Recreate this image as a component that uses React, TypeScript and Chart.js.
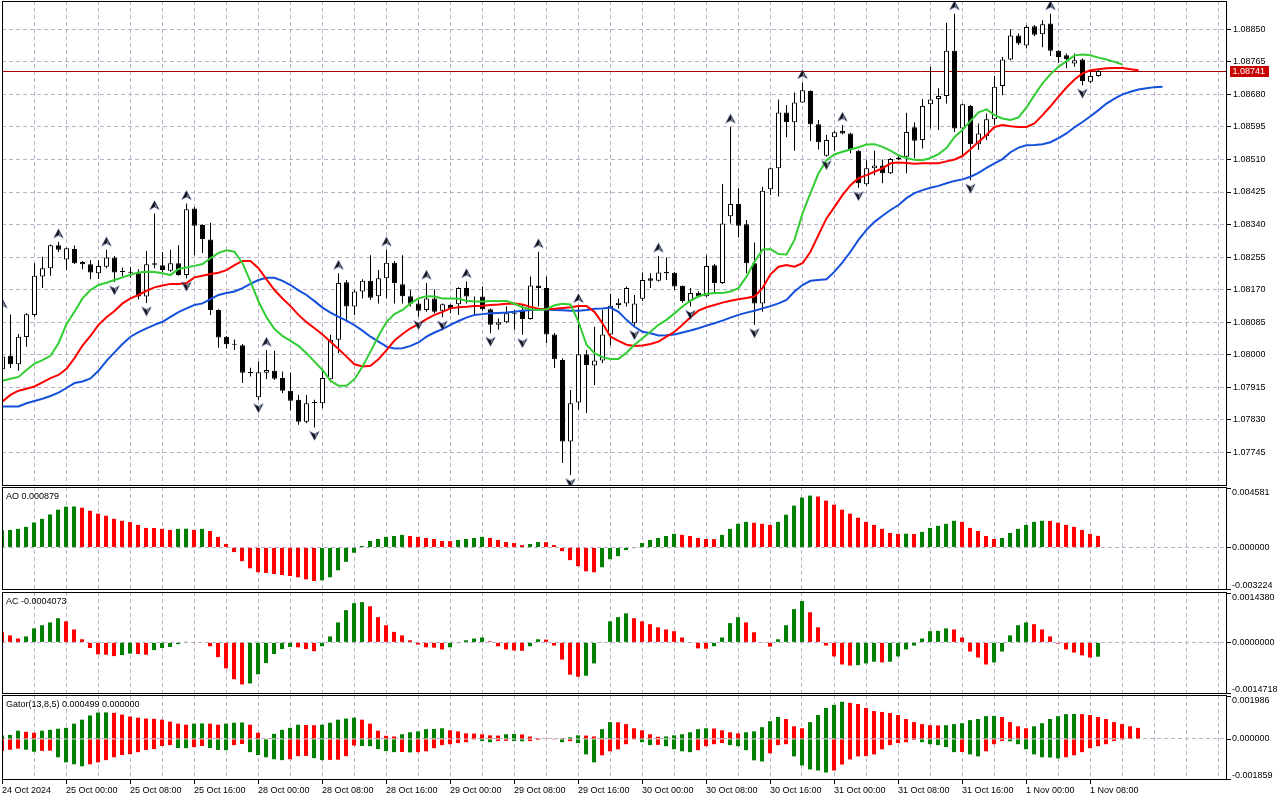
import React, { useEffect, useRef } from "react";
import { Chart, registerables } from "chart.js";

Chart.register(...registerables);

// ---------------- data (EURUSD H1) ----------------
const DATE_LABELS = [
  "24 Oct 2024", "25 Oct 00:00", "25 Oct 08:00", "25 Oct 16:00", "28 Oct 00:00", "28 Oct 08:00",
  "28 Oct 16:00", "29 Oct 00:00", "29 Oct 08:00", "29 Oct 16:00", "30 Oct 00:00", "30 Oct 08:00",
  "30 Oct 16:00", "31 Oct 00:00", "31 Oct 08:00", "31 Oct 16:00", "1 Nov 00:00", "1 Nov 08:00",
];
const LABEL_EVERY = 8;
const GRID_EVERY = 4;

const OPEN = [
  1.07962, 1.07997, 1.07975, 1.08046, 1.08104, 1.08204, 1.08226, 1.08286, 1.08249, 1.08276,
  1.08242, 1.08236, 1.08213, 1.08230, 1.08254, 1.08217, 1.08215, 1.08213, 1.08152, 1.08239,
  1.08234, 1.08219, 1.08239, 1.08208, 1.08382, 1.08339, 1.08301, 1.08117, 1.08047, 1.08027,
  1.08025, 1.07953, 1.07889, 1.07953, 1.07958, 1.07939, 1.07906, 1.07882, 1.07825, 1.07875,
  1.07873, 1.07936, 1.08039, 1.08189, 1.08126, 1.08165, 1.08193, 1.08153, 1.08200, 1.08240,
  1.08184, 1.08153, 1.08134, 1.08117, 1.08147, 1.08115, 1.08130, 1.08132, 1.08174, 1.08139,
  1.08152, 1.08119, 1.08078, 1.08085, 1.08106, 1.08115, 1.08093, 1.08181, 1.08174, 1.08053,
  1.07986, 1.07773, 1.07875, 1.08001, 1.07972, 1.07985, 1.08053, 1.08130, 1.08134, 1.08082,
  1.08146, 1.08200, 1.08193, 1.08216, 1.08214, 1.08180, 1.08140, 1.08162, 1.08153, 1.08234,
  1.08187, 1.08362, 1.08394, 1.08341, 1.08239, 1.08134, 1.08432, 1.08487, 1.08633, 1.08607,
  1.08659, 1.08689, 1.08602, 1.08520, 1.08568, 1.08585, 1.08578, 1.08533, 1.08445, 1.08487,
  1.08494, 1.08474, 1.08510, 1.08517, 1.08594, 1.08561, 1.08654, 1.08668, 1.08676, 1.08794,
  1.08591, 1.08650, 1.08550, 1.08571, 1.08615, 1.08702, 1.08771, 1.08834, 1.08808, 1.08858,
  1.08837, 1.08865, 1.08794, 1.08782, 1.08761, 1.08771, 1.08713, 1.08728,
];
const HIGH = [
  1.08112, 1.08105, 1.08054, 1.08108, 1.08239, 1.08256, 1.08288, 1.08295, 1.08280, 1.08285,
  1.08245, 1.08247, 1.08247, 1.08274, 1.08258, 1.08228, 1.08229, 1.08223, 1.08271, 1.08369,
  1.08268, 1.08274, 1.08286, 1.08395, 1.08386, 1.08341, 1.08345, 1.08119, 1.08049, 1.08040,
  1.08028, 1.07966, 1.07982, 1.08012, 1.08010, 1.07956, 1.07953, 1.07895, 1.07895, 1.07882,
  1.07960, 1.08052, 1.08213, 1.08195, 1.08169, 1.08197, 1.08260, 1.08221, 1.08274, 1.08245,
  1.08260, 1.08169, 1.08143, 1.08187, 1.08171, 1.08134, 1.08132, 1.08176, 1.08191, 1.08152,
  1.08178, 1.08121, 1.08095, 1.08126, 1.08117, 1.08130, 1.08204, 1.08269, 1.08204, 1.08057,
  1.07991, 1.07908, 1.08126, 1.08012, 1.08073, 1.08117, 1.08159, 1.08147, 1.08178, 1.08156,
  1.08215, 1.08213, 1.08258, 1.08254, 1.08216, 1.08181, 1.08174, 1.08166, 1.08260, 1.08237,
  1.08446, 1.08595, 1.08435, 1.08352, 1.08293, 1.08439, 1.08489, 1.08667, 1.08652, 1.08685,
  1.08711, 1.08691, 1.08613, 1.08574, 1.08585, 1.08600, 1.08580, 1.08535, 1.08508, 1.08533,
  1.08510, 1.08514, 1.08519, 1.08632, 1.08607, 1.08668, 1.08752, 1.08696, 1.08867, 1.08891,
  1.08656, 1.08652, 1.08604, 1.08630, 1.08728, 1.08778, 1.08850, 1.08839, 1.08861, 1.08861,
  1.08874, 1.08891, 1.08796, 1.08787, 1.08787, 1.08774, 1.08743, 1.08744,
];
const LOW = [
  1.07955, 1.07965, 1.07958, 1.08021, 1.08099, 1.08174, 1.08206, 1.08268, 1.08221, 1.08237,
  1.08223, 1.08197, 1.08198, 1.08226, 1.08190, 1.08204, 1.08202, 1.08145, 1.08135, 1.08226,
  1.08216, 1.08217, 1.08206, 1.08200, 1.08260, 1.08266, 1.08104, 1.08018, 1.08016, 1.08012,
  1.07926, 1.07943, 1.07882, 1.07936, 1.07934, 1.07900, 1.07854, 1.07817, 1.07821, 1.07810,
  1.07860, 1.07928, 1.08004, 1.08091, 1.08104, 1.08147, 1.08143, 1.08134, 1.08147, 1.08134,
  1.08134, 1.08126, 1.08099, 1.08112, 1.08108, 1.08098, 1.08108, 1.08104, 1.08134, 1.08104,
  1.08115, 1.08056, 1.08065, 1.08082, 1.08065, 1.08052, 1.08091, 1.08126, 1.08030, 1.07965,
  1.07717, 1.07686, 1.07856, 1.07848, 1.07921, 1.07978, 1.08025, 1.08121, 1.08126, 1.08073,
  1.08140, 1.08174, 1.08191, 1.08195, 1.08169, 1.08136, 1.08126, 1.08150, 1.08151, 1.08161,
  1.08185, 1.08343, 1.08306, 1.08213, 1.08078, 1.08112, 1.08417, 1.08413, 1.08568, 1.08533,
  1.08658, 1.08558, 1.08536, 1.08517, 1.08533, 1.08576, 1.08526, 1.08436, 1.08441, 1.08469,
  1.08448, 1.08472, 1.08508, 1.08474, 1.08513, 1.08539, 1.08591, 1.08587, 1.08656, 1.08582,
  1.08517, 1.08456, 1.08535, 1.08561, 1.08600, 1.08678, 1.08769, 1.08809, 1.08800, 1.08832,
  1.08803, 1.08780, 1.08762, 1.08748, 1.08752, 1.08704, 1.08709, 1.08726,
];
const CLOSE = [
  1.07995, 1.07975, 1.08047, 1.08106, 1.08206, 1.08226, 1.08286, 1.08274, 1.08278, 1.08239,
  1.08236, 1.08215, 1.08232, 1.08254, 1.08215, 1.08216, 1.08214, 1.08152, 1.08236, 1.08235,
  1.08221, 1.08239, 1.08208, 1.08380, 1.08337, 1.08302, 1.08117, 1.08045, 1.08027, 1.08026,
  1.07953, 1.07952, 1.07954, 1.07960, 1.07937, 1.07906, 1.07880, 1.07825, 1.07873, 1.07874,
  1.07939, 1.08039, 1.08187, 1.08126, 1.08165, 1.08193, 1.08149, 1.08200, 1.08240, 1.08187,
  1.08153, 1.08133, 1.08115, 1.08147, 1.08112, 1.08132, 1.08121, 1.08174, 1.08152, 1.08138,
  1.08119, 1.08078, 1.08085, 1.08108, 1.08107, 1.08093, 1.08181, 1.08174, 1.08053, 1.07988,
  1.07773, 1.07873, 1.08001, 1.07973, 1.07985, 1.08053, 1.08128, 1.08136, 1.08174, 1.08134,
  1.08195, 1.08193, 1.08215, 1.08213, 1.08178, 1.08140, 1.08161, 1.08152, 1.08232, 1.08187,
  1.08343, 1.08394, 1.08337, 1.08239, 1.08134, 1.08428, 1.08487, 1.08633, 1.08608, 1.08659,
  1.08691, 1.08602, 1.08555, 1.08561, 1.08581, 1.08578, 1.08536, 1.08448, 1.08487, 1.08494,
  1.08474, 1.08511, 1.08515, 1.08582, 1.08559, 1.08650, 1.08667, 1.08676, 1.08794, 1.08591,
  1.08654, 1.08550, 1.08578, 1.08615, 1.08700, 1.08771, 1.08834, 1.08813, 1.08856, 1.08836,
  1.08863, 1.08794, 1.08778, 1.08772, 1.08769, 1.08715, 1.08728, 1.08741,
];

// Alligator (jaw shifted 8, teeth 5, lips 3 bars into the future)
const JAW = [
  1.07865, 1.07865, 1.07865, 1.07873, 1.07879, 1.07885, 1.07892, 1.07901, 1.07913, 1.07926,
  1.07930, 1.07938, 1.07958, 1.07984, 1.08006, 1.08028, 1.08047, 1.08059, 1.08069, 1.08078,
  1.08086, 1.08099, 1.08111, 1.08121, 1.08130, 1.08134, 1.08145, 1.08156, 1.08161, 1.08165,
  1.08174, 1.08185, 1.08195, 1.08201, 1.08201, 1.08193, 1.08182, 1.08168, 1.08156, 1.08140,
  1.08123, 1.08110, 1.08099, 1.08089, 1.08077, 1.08063, 1.08047, 1.08034, 1.08021, 1.08016,
  1.08017, 1.08023, 1.08032, 1.08047, 1.08058, 1.08067, 1.08078, 1.08088, 1.08097, 1.08104,
  1.08106, 1.08108, 1.08109, 1.08110, 1.08112, 1.08115, 1.08117, 1.08119, 1.08118, 1.08117,
  1.08116, 1.08115, 1.08115, 1.08117, 1.08120, 1.08121, 1.08123, 1.08112, 1.08091, 1.08073,
  1.08060, 1.08056, 1.08050, 1.08051, 1.08053, 1.08058, 1.08063, 1.08069, 1.08076, 1.08082,
  1.08089, 1.08097, 1.08104, 1.08110, 1.08115, 1.08121, 1.08127, 1.08134, 1.08143, 1.08165,
  1.08182, 1.08193, 1.08195, 1.08197, 1.08217, 1.08241, 1.08269, 1.08300, 1.08326, 1.08347,
  1.08363, 1.08378, 1.08391, 1.08409, 1.08422, 1.08430, 1.08436, 1.08441, 1.08448, 1.08454,
  1.08458, 1.08465, 1.08475, 1.08488, 1.08500, 1.08511, 1.08529, 1.08541, 1.08547, 1.08548,
  1.08550, 1.08555, 1.08566, 1.08578, 1.08594, 1.08608, 1.08623, 1.08639, 1.08656, 1.08669,
  1.08680, 1.08687, 1.08693, 1.08696, 1.08699, 1.08700,
];
const TEETH = [
  1.07878, 1.07895, 1.07906, 1.07911, 1.07917, 1.07928, 1.07939, 1.07947, 1.07963, 1.07991,
  1.08024, 1.08049, 1.08078, 1.08098, 1.08114, 1.08134, 1.08147, 1.08156, 1.08167, 1.08176,
  1.08181, 1.08185, 1.08185, 1.08187, 1.08202, 1.08206, 1.08211, 1.08214, 1.08221, 1.08234,
  1.08245, 1.08245, 1.08226, 1.08197, 1.08169, 1.08147, 1.08127, 1.08104, 1.08085, 1.08069,
  1.08053, 1.08034, 1.08015, 1.07995, 1.07975, 1.07969, 1.07971, 1.07988, 1.08012, 1.08037,
  1.08054, 1.08069, 1.08080, 1.08093, 1.08104, 1.08112, 1.08121, 1.08124, 1.08125, 1.08127,
  1.08128, 1.08130, 1.08131, 1.08133, 1.08134, 1.08131, 1.08125, 1.08120, 1.08119, 1.08120,
  1.08122, 1.08124, 1.08127, 1.08127, 1.08112, 1.08082, 1.08047, 1.08036, 1.08026, 1.08023,
  1.08024, 1.08028, 1.08034, 1.08047, 1.08060, 1.08078, 1.08098, 1.08115, 1.08124, 1.08130,
  1.08136, 1.08141, 1.08145, 1.08148, 1.08152, 1.08174, 1.08210, 1.08230, 1.08234, 1.08230,
  1.08239, 1.08269, 1.08313, 1.08356, 1.08386, 1.08417, 1.08443, 1.08461, 1.08469, 1.08478,
  1.08487, 1.08500, 1.08502, 1.08501, 1.08499, 1.08500, 1.08500, 1.08500, 1.08505, 1.08510,
  1.08519, 1.08537, 1.08556, 1.08574, 1.08595, 1.08600, 1.08597, 1.08595, 1.08595, 1.08604,
  1.08626, 1.08649, 1.08674, 1.08698, 1.08719, 1.08735, 1.08743, 1.08746, 1.08748, 1.08749,
  1.08749, 1.08746, 1.08743,
];
const LIPS = [
  1.07932, 1.07937, 1.07942, 1.07960, 1.07977, 1.07986, 1.07997, 1.08030, 1.08080, 1.08112,
  1.08147, 1.08169, 1.08182, 1.08188, 1.08195, 1.08202, 1.08209, 1.08215, 1.08217, 1.08216,
  1.08213, 1.08208, 1.08224, 1.08228, 1.08232, 1.08237, 1.08252, 1.08266, 1.08273, 1.08269,
  1.08239, 1.08191, 1.08139, 1.08098, 1.08067, 1.08049, 1.08036, 1.08023, 1.08004, 1.07982,
  1.07960, 1.07932, 1.07919, 1.07919, 1.07936, 1.07969, 1.08008, 1.08049, 1.08086, 1.08106,
  1.08117, 1.08134, 1.08147, 1.08153, 1.08152, 1.08147, 1.08147, 1.08146, 1.08141, 1.08139,
  1.08139, 1.08140, 1.08140, 1.08140, 1.08133, 1.08124, 1.08119, 1.08117, 1.08119, 1.08129,
  1.08133, 1.08131, 1.08086, 1.08026, 1.08004, 1.07993, 1.07989, 1.07989, 1.08005, 1.08026,
  1.08043, 1.08060, 1.08078, 1.08091, 1.08108, 1.08126, 1.08141, 1.08152, 1.08159, 1.08161,
  1.08161, 1.08165, 1.08174, 1.08204, 1.08243, 1.08274, 1.08276, 1.08263, 1.08262, 1.08300,
  1.08369, 1.08422, 1.08474, 1.08508, 1.08523, 1.08530, 1.08536, 1.08542, 1.08549, 1.08550,
  1.08543, 1.08533, 1.08521, 1.08514, 1.08509, 1.08508, 1.08514, 1.08524, 1.08540, 1.08569,
  1.08587, 1.08611, 1.08633, 1.08641, 1.08626, 1.08617, 1.08613, 1.08620, 1.08646, 1.08678,
  1.08709, 1.08733, 1.08752, 1.08767, 1.08782, 1.08784, 1.08782, 1.08776, 1.08771, 1.08765,
  1.08758,
];

// Fractals: bar indexes of up / down fractals
const FRACTAL_UP = [0, 7, 13, 19, 23, 33, 42, 48, 53, 58, 67, 72, 82, 91, 100, 105, 119, 131];
const FRACTAL_DOWN = [14, 18, 23, 32, 39, 52, 55, 61, 65, 71, 79, 86, 94, 103, 107, 121, 135];

const AO = [
  0.00130, 0.00133, 0.00141, 0.00156, 0.00189, 0.00217, 0.00250, 0.00286, 0.00309, 0.00310,
  0.00301, 0.00278, 0.00256, 0.00240, 0.00217, 0.00202, 0.00192, 0.00171, 0.00148, 0.00147,
  0.00141, 0.00133, 0.00141, 0.00142, 0.00133, 0.00141, 0.00125, 0.00080, 0.00026, -0.00035,
  -0.00104, -0.00158, -0.00188, -0.00193, -0.00201, -0.00209, -0.00216, -0.00226, -0.00242, -0.00254,
  -0.00249, -0.00226, -0.00173, -0.00109, -0.00040, 0.00011, 0.00049, 0.00064, 0.00080, 0.00087,
  0.00095, 0.00087, 0.00080, 0.00072, 0.00064, 0.00049, 0.00048, 0.00057, 0.00064, 0.00072,
  0.00080, 0.00072, 0.00057, 0.00041, 0.00034, 0.00018, 0.00026, 0.00041, 0.00040, 0.00018,
  -0.00028, -0.00096, -0.00142, -0.00181, -0.00188, -0.00150, -0.00089, -0.00066, -0.00020, -0.00005,
  0.00034, 0.00057, 0.00072, 0.00087, 0.00103, 0.00095, 0.00087, 0.00072, 0.00064, 0.00063,
  0.00095, 0.00141, 0.00179, 0.00194, 0.00187, 0.00179, 0.00171, 0.00194, 0.00248, 0.00317,
  0.00378, 0.00393, 0.00386, 0.00355, 0.00324, 0.00286, 0.00256, 0.00225, 0.00194, 0.00171,
  0.00141, 0.00110, 0.00103, 0.00104, 0.00102, 0.00118, 0.00148, 0.00164, 0.00179, 0.00202,
  0.00194, 0.00148, 0.00125, 0.00087, 0.00064, 0.00072, 0.00110, 0.00141, 0.00171, 0.00194,
  0.00202, 0.00201, 0.00187, 0.00171, 0.00156, 0.00133, 0.00103, 0.000879,
];
const AC = [
  0.00029, 0.00020, 0.00011, 0.00017, 0.00040, 0.00049, 0.00057, 0.00069, 0.00060, 0.00037,
  0.00009, -0.00016, -0.00034, -0.00035, -0.00039, -0.00036, -0.00032, -0.00033, -0.00035, -0.00022,
  -0.00016, -0.00013, -0.00005, 0.00002, -0.00001, 0.00000, -0.00011, -0.00042, -0.00074, -0.00105,
  -0.00120, -0.00117, -0.00091, -0.00059, -0.00033, -0.00019, -0.00013, -0.00014, -0.00019, -0.00025,
  -0.00011, 0.00017, 0.00057, 0.00092, 0.00112, 0.00115, 0.00103, 0.00072, 0.00049, 0.00030,
  0.00020, 0.00006, -0.00006, -0.00014, -0.00015, -0.00020, -0.00014, -0.00002, 0.00006, 0.00011,
  0.00014, 0.00003, -0.00011, -0.00020, -0.00023, -0.00024, -0.00011, 0.00009, 0.00008, -0.00009,
  -0.00049, -0.00092, -0.00098, -0.00095, -0.00060, 0.00001, 0.00060, 0.00072, 0.00083, 0.00069,
  0.00060, 0.00052, 0.00043, 0.00037, 0.00032, 0.00014, -0.00001, -0.00017, -0.00018, -0.00011,
  0.00014, 0.00055, 0.00072, 0.00057, 0.00029, -0.00001, -0.00012, 0.00009, 0.00049, 0.00095,
  0.00118, 0.00086, 0.00043, -0.00009, -0.00040, -0.00063, -0.00066, -0.00065, -0.00060, -0.00055,
  -0.00057, -0.00055, -0.00040, -0.00020, -0.00009, 0.00011, 0.00032, 0.00033, 0.00040, 0.00037,
  0.00014, -0.00026, -0.00043, -0.00063, -0.00057, -0.00026, 0.00020, 0.00049, 0.00057, 0.00052,
  0.00037, 0.00017, -0.00003, -0.00020, -0.00029, -0.00037, -0.00043, -0.0004073,
];
const GATOR_UP = [
  0.00015, 0.00018, 0.00037, 0.00032, 0.00028, 0.00037, 0.00041, 0.00046, 0.00050, 0.00069,
  0.00087, 0.00106, 0.00119, 0.00120, 0.00118, 0.00110, 0.00101, 0.00096, 0.00092, 0.00091,
  0.00087, 0.00078, 0.00069, 0.00064, 0.00069, 0.00070, 0.00069, 0.00064, 0.00069, 0.00073,
  0.00074, 0.00064, 0.00028, 0.00002, 0.00023, 0.00041, 0.00050, 0.00064, 0.00063, 0.00062,
  0.00064, 0.00073, 0.00087, 0.00092, 0.00096, 0.00087, 0.00069, 0.00037, 0.00014, 0.00011,
  0.00021, 0.00030, 0.00034, 0.00044, 0.00045, 0.00048, 0.00039, 0.00034, 0.00025, 0.00024,
  0.00021, 0.00016, 0.00015, 0.00021, 0.00022, 0.00020, 0.00011, 0.00004, 0.00003, 0.00002,
  0.00001, 0.00007, 0.00016, 0.00015, 0.00011, 0.00044, 0.00076, 0.00075, 0.00067, 0.00048,
  0.00039, 0.00021, 0.00010, 0.00011, 0.00016, 0.00021, 0.00030, 0.00044, 0.00048, 0.00047,
  0.00039, 0.00030, 0.00025, 0.00030, 0.00034, 0.00053, 0.00080, 0.00099, 0.00090, 0.00057,
  0.00048, 0.00076, 0.00108, 0.00140, 0.00154, 0.00168, 0.00163, 0.00158, 0.00140, 0.00126,
  0.00122, 0.00117, 0.00108, 0.00090, 0.00076, 0.00067, 0.00062, 0.00061, 0.00062, 0.00067,
  0.00071, 0.00085, 0.00090, 0.00103, 0.00104, 0.00099, 0.00076, 0.00057, 0.00048, 0.00057,
  0.00071, 0.00090, 0.00103, 0.00112, 0.00113, 0.00112, 0.00108, 0.00099, 0.00090, 0.00076,
  0.00067, 0.00057, 0.000499,
];
const GATOR_DOWN = [
  -0.00055, -0.00049, -0.00044, -0.00049, -0.00058, -0.00054, -0.00053, -0.00083, -0.00106, -0.00115,
  -0.00124, -0.00115, -0.00106, -0.00096, -0.00083, -0.00073, -0.00069, -0.00060, -0.00050, -0.00046,
  -0.00032, -0.00028, -0.00041, -0.00042, -0.00037, -0.00032, -0.00041, -0.00050, -0.00051, -0.00028,
  -0.00023, -0.00060, -0.00073, -0.00083, -0.00092, -0.00096, -0.00092, -0.00078, -0.00077, -0.00087,
  -0.00096, -0.00095, -0.00094, -0.00078, -0.00030, -0.00032, -0.00033, -0.00046, -0.00055, -0.00060,
  -0.00059, -0.00061, -0.00060, -0.00056, -0.00042, -0.00028, -0.00024, -0.00019, -0.00015, -0.00004,
  -0.00010, -0.00015, -0.00010, -0.00009, -0.00010, -0.00011, -0.00010, -0.00005, -0.00002, -0.00001,
  -0.00015, -0.00010, -0.00019, -0.00070, -0.00106, -0.00074, -0.00056, -0.00047, -0.00024, -0.00001,
  -0.00015, -0.00028, -0.00027, -0.00033, -0.00047, -0.00056, -0.00060, -0.00051, -0.00033, -0.00024,
  -0.00019, -0.00028, -0.00033, -0.00051, -0.00097, -0.00102, -0.00065, -0.00028, -0.00024, -0.00079,
  -0.00120, -0.00138, -0.00143, -0.00152, -0.00143, -0.00116, -0.00093, -0.00079, -0.00078, -0.00070,
  -0.00047, -0.00028, -0.00019, -0.00015, -0.00005, -0.00015, -0.00024, -0.00028, -0.00037, -0.00060,
  -0.00059, -0.00070, -0.00079, -0.00056, -0.00024, -0.00010, -0.00011, -0.00024, -0.00047, -0.00070,
  -0.00083, -0.00084, -0.00088, -0.00083, -0.00074, -0.00060, -0.00042, -0.00033, -0.00024, -0.00010,
  -0.00004,
];
// the first visible bar's colour (rising = green) cannot be derived from a previous bar
const FIRST_RISING = { ao: true, ac: false, gatorUp: true, gatorDown: false };

// axis ranges and tick values as printed on the price scales
const PRICE_TICKS = [
  1.07745, 1.0783, 1.07915, 1.08, 1.08085, 1.0817, 1.08255, 1.0834, 1.08425, 1.0851, 1.08595,
  1.0868, 1.08765, 1.0885,
];
const PRICE_RANGE = [1.07657, 1.08924];
const AO_RANGE = [-0.003224, 0.004581];
const AC_RANGE = [-0.0014718, 0.001438];
const GATOR_RANGE = [-0.001859, 0.001986];

// ---------------- styling ----------------
const FONT_FAMILY = '"Liberation Sans", Arial, sans-serif';
const FONT = { family: FONT_FAMILY, size: 9 };
const GRID = "#bab2c6";
const DASH = [4, 3];
const GREEN = "#008000";
const RED = "#ff0000";
const PRICE_LINE = "#a80000";
const PRICE_BOX = "#c80000";

const PLOT_LEFT = 2;
const AXIS_W = 53;
const PLOT_W = 1280 - PLOT_LEFT - AXIS_W;
const BAR_PX = 8;

const idx = (n: number) => Array.from({ length: n }, (_, i) => i);

function risingColors(vals: number[], firstRising: boolean, invert = false) {
  return vals.map((v, i) => {
    const rising = i === 0 ? firstRising : invert ? v < vals[i - 1] : v > vals[i - 1];
    return rising ? GREEN : RED;
  });
}

function makeFractal(up: boolean) {
  const c = document.createElement("canvas");
  c.width = 11;
  c.height = 27;
  const g = c.getContext("2d")!;
  const cy = up ? 13.5 - 8 : 13.5 + 8;
  const s = up ? 1 : -1;
  g.beginPath();
  g.moveTo(5.5, cy - 4.8 * s);
  g.lineTo(10.2, cy + 4 * s);
  g.lineTo(5.5, cy + 1.4 * s);
  g.lineTo(0.8, cy + 4 * s);
  g.closePath();
  g.fillStyle = "#141414";
  g.fill();
  g.strokeStyle = "rgba(60,80,150,0.6)";
  g.lineWidth = 0.8;
  g.stroke();
  // light inner facet, as on the terminal's arrow glyph
  g.beginPath();
  g.moveTo(6.2, cy - 2 * s);
  g.lineTo(8.4, cy + 2.6 * s);
  g.lineTo(6.2, cy + 1.2 * s);
  g.closePath();
  g.fillStyle = "rgba(210,225,255,0.75)";
  g.fill();
  return c;
}

const panelPlugin = {
  id: "mtPanel",
  beforeDatasetsDraw(chart: any, _a: any, opts: any) {
    if (opts.price == null) return;
    const { ctx, chartArea: a } = chart;
    const py = Math.round(chart.scales.y.getPixelForValue(opts.price)) + 0.5;
    ctx.save();
    ctx.strokeStyle = PRICE_LINE;
    ctx.lineWidth = 1;
    ctx.beginPath();
    ctx.moveTo(a.left, py);
    ctx.lineTo(a.right, py);
    ctx.stroke();
    ctx.restore();
  },
  afterDraw(chart: any, _a: any, opts: any) {
    const { ctx, chartArea: a } = chart;
    ctx.save();
    ctx.strokeStyle = "#000";
    ctx.lineWidth = 1;
    ctx.strokeRect(a.left + 0.5, a.top + 0.5, a.right - a.left - 1, a.bottom - a.top - 1);
    ctx.font = `${FONT.size}px ${FONT_FAMILY}`;
    ctx.fillStyle = "#000";
    ctx.textAlign = "left";
    if (opts.title) {
      ctx.textBaseline = "middle";
      ctx.fillText(opts.title, a.left + 4, a.top + 9.5);
    }
    if (opts.sideLabels) {
      const ys = chart.scales.y;
      for (const l of opts.sideLabels) {
        let py = ys.getPixelForValue(l.value);
        py = Math.min(Math.max(py, a.top + 0.5), a.bottom - 0.5);
        const ty = Math.round(py) + (l.base === "bottom" ? -0.5 : 0.5);
        ctx.beginPath();
        ctx.moveTo(a.right, ty);
        ctx.lineTo(a.right + 4, ty);
        ctx.stroke();
        if (l.base === "top") {
          ctx.textBaseline = "top";
          ctx.fillText(l.text, a.right + 5, a.top + 1);
        } else if (l.base === "bottom") {
          ctx.textBaseline = "alphabetic";
          ctx.fillText(l.text, a.right + 5, a.bottom - 2);
        } else {
          ctx.textBaseline = "middle";
          ctx.fillText(l.text, a.right + 5, py);
        }
      }
    }
    if (opts.price != null) {
      const py = chart.scales.y.getPixelForValue(opts.price);
      ctx.fillStyle = PRICE_BOX;
      ctx.fillRect(a.right + 3, Math.round(py) - 5, 39, 11);
      ctx.fillStyle = "#fff";
      ctx.textBaseline = "middle";
      ctx.fillText(opts.price.toFixed(5), a.right + 5.5, Math.round(py) + 0.5);
    }
    ctx.restore();
  },
};

function gridX(min: number, extra: any = {}) {
  return {
    type: "linear",
    min,
    max: min + PLOT_W / BAR_PX,
    offset: false,
    weight: 0,
    grid: { color: GRID, drawTicks: false, offset: false },
    border: { display: false, dash: DASH },
    ticks: { display: false },
    afterBuildTicks: (s: any) => {
      const t = [];
      for (let v = 0; v <= s.max; v += GRID_EVERY) if (v >= s.min) t.push({ value: v });
      s.ticks = t;
    },
    afterFit: (s: any) => {
      s.height = 0;
      s.paddingLeft = 0;
      s.paddingRight = 0;
    },
    ...extra,
  };
}

function subY(range: number[]) {
  return {
    position: "right",
    min: range[0],
    max: range[1],
    grid: { color: GRID, drawTicks: false },
    border: { display: false, dash: DASH },
    ticks: { display: false },
    afterBuildTicks: (s: any) => {
      s.ticks = [{ value: 0 }];
    },
    afterFit: (s: any) => {
      s.width = AXIS_W;
      s.paddingTop = 0;
      s.paddingBottom = 0;
    },
  };
}

const baseOptions = {
  animation: false,
  responsive: false,
  devicePixelRatio: 1,
  events: [],
  layout: { autoPadding: false, padding: { left: PLOT_LEFT, right: 0, top: 0, bottom: 0 } },
};

function histBar(values: number[], colors: string[], extra: any = {}) {
  return {
    type: "bar",
    data: values.map((v, i) => ({ x: i, y: v })),
    backgroundColor: colors,
    borderWidth: 0,
    barThickness: 4,
    grouped: false,
    inflateAmount: 0,
    xAxisID: "x",
    ...extra,
  };
}

function sideLabels(range: number[], digits: number) {
  return [
    { value: range[1], text: range[1].toFixed(digits), base: "top" },
    { value: 0, text: (0).toFixed(digits), base: "middle" },
    { value: range[0], text: range[0].toFixed(digits), base: "bottom" },
  ];
}

function buildMain(): any {
  const n = CLOSE.length;
  const up = makeFractal(true);
  const down = makeFractal(false);
  const line = (vals: number[], color: string, order: number) => ({
    type: "line",
    data: vals.map((v, i) => ({ x: i, y: v })),
    borderColor: color,
    borderWidth: 2,
    pointRadius: 0,
    tension: 0,
    fill: false,
    order,
    xAxisID: "x",
  });
  return {
    type: "bar",
    data: {
      datasets: [
        {
          type: "line",
          data: FRACTAL_UP.map((i) => ({ x: i, y: HIGH[i] })),
          showLine: false,
          pointStyle: up,
          pointRadius: 5,
          clip: 0,
          order: 0,
          xAxisID: "x",
        },
        {
          type: "line",
          data: FRACTAL_DOWN.map((i) => ({ x: i, y: LOW[i] })),
          showLine: false,
          pointStyle: down,
          pointRadius: 5,
          clip: 0,
          order: 0,
          xAxisID: "x",
        },
        line(LIPS, "#32cd32", 1),
        line(TEETH, "#ff0000", 2),
        line(JAW, "#1450dc", 3),
        {
          type: "bar",
          data: idx(n).map((i) => ({ x: i, y: [OPEN[i], CLOSE[i]] })),
          backgroundColor: idx(n).map((i) => (CLOSE[i] >= OPEN[i] ? "#ffffff" : "#000000")),
          borderColor: "#000000",
          borderWidth: 1,
          borderSkipped: false,
          barThickness: 5,
          minBarLength: 1,
          grouped: false,
          inflateAmount: 0,
          order: 4,
          xAxisID: "x",
        },
        {
          type: "bar",
          data: idx(n).map((i) => ({ x: i, y: [LOW[i], HIGH[i]] })),
          backgroundColor: "#000000",
          borderWidth: 0,
          barThickness: 1,
          grouped: false,
          inflateAmount: 0,
          order: 5,
          xAxisID: "x",
        },
      ],
    },
    options: {
      ...baseOptions,
      layout: { autoPadding: false, padding: { left: PLOT_LEFT, right: 0, top: 1, bottom: 0 } },
      plugins: {
        legend: { display: false },
        tooltip: { enabled: false },
        mtPanel: { price: CLOSE[n - 1] },
      },
      scales: {
        x: gridX(-1 / BAR_PX / 2),
        y: {
          position: "right",
          min: PRICE_RANGE[0],
          max: PRICE_RANGE[1],
          grid: { color: GRID, tickLength: 4, tickColor: "#000", drawTicks: true },
          border: { display: false, dash: DASH },
          ticks: {
            font: FONT,
            color: "#000",
            padding: 2,
            autoSkip: false,
            callback: (v: any) => Number(v).toFixed(5),
          },
          afterBuildTicks: (s: any) => {
            s.ticks = PRICE_TICKS.map((value) => ({ value }));
          },
          afterFit: (s: any) => {
            s.width = AXIS_W;
            s.paddingTop = 0;
            s.paddingBottom = 0;
          },
        },
      },
    },
    plugins: [panelPlugin],
  };
}

function buildAO(): any {
  return {
    type: "bar",
    data: { datasets: [histBar(AO, risingColors(AO, FIRST_RISING.ao))] },
    options: {
      ...baseOptions,
      plugins: {
        legend: { display: false },
        tooltip: { enabled: false },
        mtPanel: { title: `AO ${AO[AO.length - 1].toFixed(6)}`, sideLabels: sideLabels(AO_RANGE, 6) },
      },
      scales: { x: gridX(0), y: subY(AO_RANGE) },
    },
    plugins: [panelPlugin],
  };
}

function buildAC(): any {
  return {
    type: "bar",
    data: { datasets: [histBar(AC, risingColors(AC, FIRST_RISING.ac))] },
    options: {
      ...baseOptions,
      plugins: {
        legend: { display: false },
        tooltip: { enabled: false },
        mtPanel: { title: `AC ${AC[AC.length - 1].toFixed(7)}`, sideLabels: sideLabels(AC_RANGE, 7) },
      },
      scales: { x: gridX(0), y: subY(AC_RANGE) },
    },
    plugins: [panelPlugin],
  };
}

function buildGator(): any {
  const lastUp = GATOR_UP[GATOR_UP.length - 1];
  const lastDown = Math.abs(GATOR_DOWN[GATOR_UP.length - 1] ?? 0);
  return {
    type: "bar",
    data: {
      datasets: [
        histBar(GATOR_UP, risingColors(GATOR_UP, FIRST_RISING.gatorUp)),
        histBar(GATOR_DOWN, risingColors(GATOR_DOWN, FIRST_RISING.gatorDown, true)),
      ],
    },
    options: {
      ...baseOptions,
      plugins: {
        legend: { display: false },
        tooltip: { enabled: false },
        mtPanel: {
          title: `Gator(13,8,5) ${lastUp.toFixed(6)} ${lastDown.toFixed(6)}`,
          sideLabels: sideLabels(GATOR_RANGE, 6),
        },
      },
      scales: {
        x: gridX(0),
        xl: {
          type: "linear",
          position: "bottom",
          weight: 1,
          min: 0,
          max: PLOT_W / BAR_PX,
          offset: false,
          grid: {
            drawOnChartArea: false,
            drawTicks: true,
            tickLength: 4,
            tickColor: "#000",
            color: "#000",
            offset: false,
          },
          border: { display: false },
          ticks: {
            font: FONT,
            color: "#000",
            padding: 1,
            align: "start",
            autoSkip: false,
            maxRotation: 0,
            minRotation: 0,
            callback: (v: any) => DATE_LABELS[Math.round(Number(v) / LABEL_EVERY)] ?? "",
          },
          afterBuildTicks: (s: any) => {
            s.ticks = DATE_LABELS.map((_, k) => ({ value: k * LABEL_EVERY }));
          },
          afterFit: (s: any) => {
            s.height = 20;
            s.paddingLeft = 0;
            s.paddingRight = 0;
          },
        },
        y: subY(GATOR_RANGE),
      },
    },
    plugins: [panelPlugin],
  };
}

function ChartCanvas({ top, height, build }: { top: number; height: number; build: () => any }) {
  const ref = useRef<HTMLCanvasElement | null>(null);
  useEffect(() => {
    if (!ref.current) return;
    const chart = new Chart(ref.current, build());
    return () => chart.destroy();
  }, []);
  return (
    <canvas
      ref={ref}
      width={1280}
      height={height}
      style={{ position: "absolute", left: 0, top, width: 1280, height, display: "block" }}
    />
  );
}

export default function App() {
  return (
    <div
      style={{
        position: "absolute",
        left: 0,
        top: 0,
        width: 1280,
        height: 800,
        background: "#ffffff",
        overflow: "hidden",
      }}
    >
      <ChartCanvas top={0} height={486} build={buildMain} />
      <ChartCanvas top={487} height={103} build={buildAO} />
      <ChartCanvas top={592} height={102} build={buildAC} />
      <ChartCanvas top={695} height={105} build={buildGator} />
    </div>
  );
}
